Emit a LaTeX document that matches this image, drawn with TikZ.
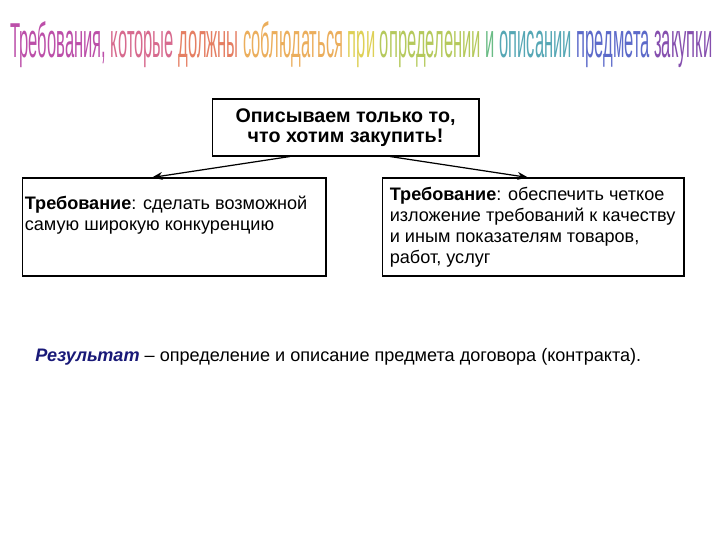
\documentclass[tikz,border=0pt]{standalone}
\usepackage{fontspec}
\setmainfont{Liberation Sans}
\usepackage{graphicx}
\usetikzlibrary{arrows.meta,calc}

\definecolor{rezblue}{RGB}{25,25,120}
\definecolor{hdA}{HTML}{B0309A}
\definecolor{hdB}{HTML}{D0507A}
\definecolor{hdC}{HTML}{E06848}
\definecolor{hdD}{HTML}{E8A040}
\definecolor{hdE}{HTML}{D8C838}
\definecolor{hdF}{HTML}{A8C040}
\definecolor{hdG}{HTML}{50B070}
\definecolor{hdH}{HTML}{3898A8}
\definecolor{hdI}{HTML}{4050C0}
\definecolor{hdJ}{HTML}{7030A0}

\begin{document}
\begin{tikzpicture}[x=0.02cm,y=-0.02cm,
  box/.style={draw,line width=0.6pt,inner sep=0pt},
  txt/.style={anchor=north west,inner sep=0pt,align=left,font=\fontsize{10.3}{12}\selectfont},
  arr/.style={-{Stealth[length=6pt,width=4.5pt]},line width=0.7pt}]

\useasboundingbox (0,0) rectangle (720,540);

% heading
\node[anchor=base west,inner sep=0pt,opacity=0.85] (head) at (10,58)
{\resizebox{14.04cm}{0.72cm}{\textcolor{hdA}{Требования,} \textcolor{hdB}{которые}
 \textcolor{hdC}{должны} \textcolor{hdD}{соблюдаться} \textcolor{hdE}{при}
 \textcolor{hdF}{определении} \textcolor{hdG}{и} \textcolor{hdH}{описании}
 \textcolor{hdI}{предмета} \textcolor{hdJ}{закупки}}};

% boxes
\node[box,minimum width=5.34cm,minimum height=1.14cm,align=center,
  font=\bfseries\fontsize{11.2}{11.5}\selectfont] (top) at (345.5,127.5)
{Описываем только то,\\что хотим закупить!};
\node[box,minimum width=6.08cm,minimum height=1.96cm] (left) at (174,227) {};
\node[box,minimum width=6.04cm,minimum height=1.96cm] (right) at (533,227) {};

\node[txt] (lefttxt) at ($(left.north west)+(3,18)$)
{\textbf{Требование}: сделать возможной\\самую широкую конкуренцию};
\node[txt] (righttxt) at ($(right.north west)+(8,9)$)
{\textbf{Требование}: обеспечить четкое\\изложение требований к качеству\\и иным показателям товаров,\\работ, услуг};

\draw[arr] ($(top.south)+(-55.5,0)$) -- ($(left.north)+(-22,0)$);
\draw[arr] ($(top.south)+(44.5,0)$) -- ($(right.north)+(-5,0)$);

% result
\node[anchor=west,inner sep=0pt,font=\fontsize{10.3}{12}\selectfont] (result) at (35,357)
{\textcolor{rezblue}{\textbf{\textit{Результат}}} – определение и описание предмета договора (контракта).};

\end{tikzpicture}
\end{document}
